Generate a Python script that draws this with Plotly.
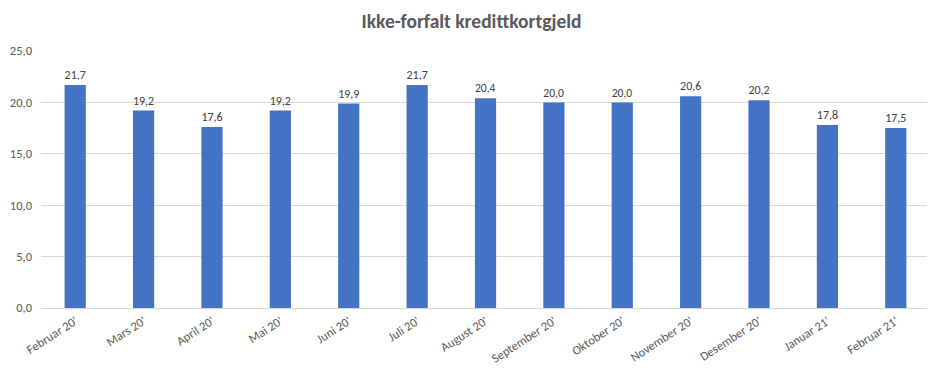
import plotly.graph_objects as go

categories = ["Februar 20'", "Mars 20'", "April 20'", "Mai 20'", "Juni 20'", "Juli 20'",
              "August 20'", "September 20'", "Oktober 20'", "November 20'", "Desember 20'",
              "Januar 21'", "Februar 21'"]
values = [21.7, 19.2, 17.6, 19.2, 19.9, 21.7, 20.4, 20.0, 20.0, 20.6, 20.2, 17.8, 17.5]
y_ticks = [0, 5, 10, 15, 20, 25]

font_family = "Carlito, Calibri, 'Open Sans', 'Liberation Sans', Arial, sans-serif"

fig = go.Figure(go.Bar(
    x=categories, y=values,
    marker=dict(color="#4472C4", line=dict(width=0)),
    text=values, texttemplate="%{y:.1f}", textposition="outside",
    textfont=dict(size=12.5, color="#404040", family=font_family),
    cliponaxis=False,
))

fig.update_layout(
    width=927, height=365,
    margin=dict(l=33, r=5, t=43, b=65),
    paper_bgcolor="white", plot_bgcolor="white",
    separators=", ",
    bargap=0.69,
    showlegend=False,
    title=dict(text="<b>Ikke-forfalt kredittkortgjeld</b>", x=0.5, xanchor="center",
               y=0.965, yanchor="middle",
               font=dict(size=19.5, color="#595959", family=font_family)),
    font=dict(family=font_family, color="#595959"),
    xaxis=dict(tickangle=-33, tickfont=dict(size=12.5, color="#595959"),
               showgrid=False, showline=True, linecolor="#d9d9d9", linewidth=1,
               ticks="", automargin=False),
    yaxis=dict(range=[0, 25], tickvals=y_ticks, tickformat=".1f",
               tickfont=dict(size=12.5, color="#595959"),
               gridcolor="#d9d9d9", gridwidth=1, zeroline=False, showline=False,
               ticks="", ticklabelstandoff=8, automargin=False),
)

fig.write_html("out.html")
